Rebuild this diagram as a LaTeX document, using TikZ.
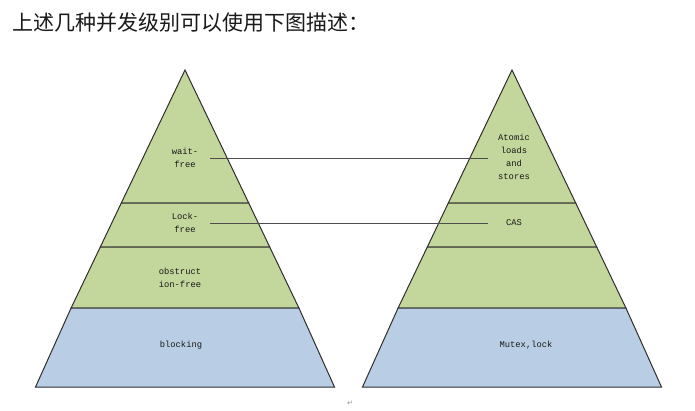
\documentclass[tikz,border=0pt]{standalone}
\usepackage{fontspec}
\setmainfont{Liberation Serif}
\newfontfamily\cjkfont{Noto Sans CJK SC}
\newfontfamily\labfont{Liberation Mono}
\newfontfamily\symfont{DejaVu Sans}
\definecolor{pgreen}{HTML}{C3D69B}
\definecolor{pblue}{HTML}{B9CDE4}
\definecolor{pline}{HTML}{2E2E2E}
\begin{document}
\begin{tikzpicture}[x=1pt,y=-1pt,
  layer/.style={draw=pline,line width=1pt,line join=miter},
  lab/.style={font=\labfont\fontsize{8.8}{13.2}\selectfont,text=black!90,align=center,inner sep=1pt},
  link/.style={draw=pline!85,line width=1pt}]
\useasboundingbox (0,0) rectangle (695,410);
% left pyramid (apex 185,70; base 34..334 at 387)
\filldraw[layer,fill=pgreen] (185,70) -- (248.7,203) -- (121.3,203) -- cycle;
\filldraw[layer,fill=pgreen] (121.3,203) -- (248.7,203) -- (269.7,247) -- (100.3,247) -- cycle;
\filldraw[layer,fill=pgreen] (100.3,247) -- (269.7,247) -- (298.9,308) -- (71.1,308) -- cycle;
\filldraw[layer,fill=pblue] (71.1,308) -- (298.9,308) -- (334.5,387) -- (35.5,387) -- cycle;
% right pyramid (apex 512,70)
\filldraw[layer,fill=pgreen] (512,70) -- (575.7,203) -- (448.3,203) -- cycle;
\filldraw[layer,fill=pgreen] (448.3,203) -- (575.7,203) -- (596.7,247) -- (427.3,247) -- cycle;
\filldraw[layer,fill=pgreen] (427.3,247) -- (596.7,247) -- (625.9,308) -- (398.1,308) -- cycle;
\filldraw[layer,fill=pblue] (398.1,308) -- (625.9,308) -- (661.5,387) -- (362.5,387) -- cycle;
% title
\node[anchor=west,inner sep=0pt,font=\cjkfont\fontsize{21}{24}\selectfont,text=black!90] (title) at (12,23) {上述几种并发级别可以使用下图描述：};
% labels
\node[lab] (wf) at (185,158) {wait-\\free};
\node[lab] (lf) at (185,223) {Lock-\\free};
\node[lab] (of) at (180,278) {obstruct\\ion-free};
\node[lab] (bl) at (181,345) {blocking};
\node[lab] (ats) at (514,157) {Atomic\\loads\\and\\stores};
\node[lab] (cas) at (514,223) {CAS};
\node[lab] (mx) at (526,345) {Mutex,lock};
% connectors
\coordinate (w1) at (210,158);
\coordinate (w2) at (488,158);
\coordinate (l1) at (210,223);
\coordinate (l2) at (488,223);
\draw[link] (w1) -- (w2);
\draw[link] (l1) -- (l2);
% paragraph mark
\node[font=\symfont\fontsize{7}{8}\selectfont,text=black!45,inner sep=0pt] (pm) at (350,403) {↵};
\end{tikzpicture}
\end{document}
